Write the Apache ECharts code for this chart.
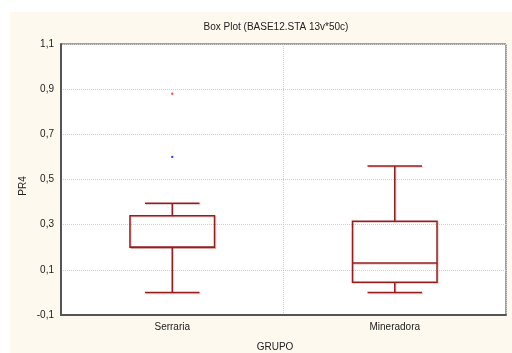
<!DOCTYPE html>
<html><head><meta charset="utf-8">
<script src="https://cdn.jsdelivr.net/npm/echarts@6/dist/echarts.min.js"></script>
<style>html,body{margin:0;padding:0;background:#fff}#c{width:512px;height:353px}</style>
</head><body><div id="c"></div>
<script>
var categories = ['Serraria', 'Mineradora'];
// [min, Q1, median, Q3, max]
var boxValues = [
  [0.0, 0.20, 0.20, 0.34, 0.395],
  [0.0, 0.045, 0.13, 0.315, 0.56]
];
var extremes = [['Serraria', 0.88]];
var outliers = [['Serraria', 0.60]];
var yTicks = {min: -0.1, max: 1.1, interval: 0.2};

var boxColor = '#961e1e';
var font = '10px "Liberation Sans", Arial';
var chart = echarts.init(document.getElementById('c'), null, {renderer: 'canvas'});
var option = {
  animation: false,
  backgroundColor: '#ffffff',
  graphic: [
    {type: 'rect', z: -10, shape: {x: 10, y: 12, width: 502, height: 341}, style: {fill: '#fdf9ee'}},
    {type: 'rect', z: -9, shape: {x: 61, y: 44, width: 445, height: 271}, style: {fill: '#ffffff'}},
    {type: 'text', style: {x: 276, y: 27, text: 'Box Plot (BASE12.STA 13v*50c)', font: font, fill: '#222', textAlign: 'center', textVerticalAlign: 'middle'}},
    {type: 'text', style: {x: 275, y: 347, text: 'GRUPO', font: font, fill: '#222', textAlign: 'center', textVerticalAlign: 'middle'}},
    {type: 'text', x: 23, y: 186, rotation: Math.PI / 2, style: {x: 0, y: 0, text: 'PR4', font: font, fill: '#222', textAlign: 'center', textVerticalAlign: 'middle'}}
  ],
  grid: {left: 61, right: 6, top: 44, bottom: 38, show: true, borderColor: '#444', borderWidth: 1, backgroundColor: 'transparent'},
  xAxis: {
    type: 'category', data: categories, boundaryGap: true,
    axisLine: {show: true, onZero: false, lineStyle: {color: '#555', width: 2}},
    axisTick: {show: false},
    axisLabel: {color: '#222', fontSize: 10, fontFamily: '"Liberation Sans", Arial', margin: 7},
    splitLine: {show: true, lineStyle: {color: '#d0d0d0', type: [1, 1], width: 1}}
  },
  yAxis: {
    type: 'value', min: yTicks.min, max: yTicks.max, interval: yTicks.interval,
    axisLine: {show: true, lineStyle: {color: '#555', width: 2}},
    axisTick: {show: false},
    axisLabel: {color: '#222', fontSize: 10, fontFamily: '"Liberation Sans", Arial', margin: 7,
      formatter: function (v) { return v.toFixed(1).replace('.', ','); }},
    splitLine: {show: true, lineStyle: {color: '#d0d0d0', type: [1, 1], width: 1}}
  },
  series: [
    {
      type: 'custom',
      data: boxValues.map(function (b, i) { return [i].concat(b); }),
      encode: {x: 0, y: [1, 2, 3, 4, 5]},
      renderItem: function (params, api) {
        var i = api.value(0);
        var pMin = api.coord([i, api.value(1)]);
        var pQ1 = api.coord([i, api.value(2)]);
        var pMed = api.coord([i, api.value(3)]);
        var pQ3 = api.coord([i, api.value(4)]);
        var pMax = api.coord([i, api.value(5)]);
        var bw = api.size([1, 0])[0] * 0.38;
        var cw = api.size([1, 0])[0] * 0.245;
        var x = pMed[0];
        var st = {stroke: boxColor, lineWidth: 1.5, fill: null};
        var sh = {stroke: 'rgba(150,30,30,0.22)', lineWidth: 1.5, fill: null};
        function line(x1, y1, x2, y2, s) { return {type: 'line', shape: {x1: x1, y1: y1, x2: x2, y2: y2}, style: s}; }
        var els = [];
        [[sh, 1], [st, 0]].forEach(function (p) {
          var s = p[0], o = p[1];
          els.push({type: 'rect', shape: {x: x - bw / 2 + o, y: pQ3[1] + o, width: bw, height: pQ1[1] - pQ3[1]}, style: s});
          els.push(line(x - bw / 2 + o, pMed[1] + o, x + bw / 2 + o, pMed[1] + o, s));
          els.push(line(x + o, pQ3[1] + o, x + o, pMax[1] + o, s));
          els.push(line(x + o, pQ1[1] + o, x + o, pMin[1] + o, s));
          els.push(line(x - cw / 2 + o, pMax[1] + o, x + cw / 2 + o, pMax[1] + o, s));
          els.push(line(x - cw / 2 + o, pMin[1] + o, x + cw / 2 + o, pMin[1] + o, s));
        });
        return {type: 'group', children: els};
      }
    },
    {type: 'scatter', data: extremes, symbol: 'rect', symbolSize: 2, itemStyle: {color: '#ff0000'}},
    {type: 'scatter', data: outliers, symbol: 'rect', symbolSize: 2, itemStyle: {color: '#0000ff'}}
  ]
};
chart.setOption(option);
</script></body></html>
